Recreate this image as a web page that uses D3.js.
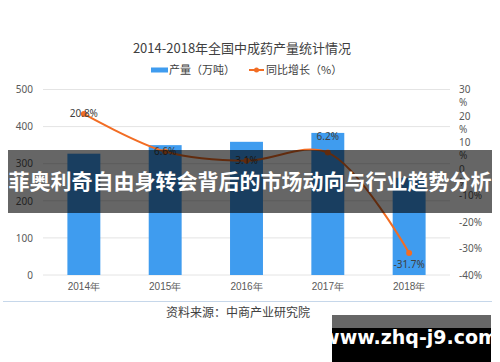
<!DOCTYPE html>
<html>
<head>
<meta charset="utf-8">
<script src="https://cdn.jsdelivr.net/npm/d3@7"></script>
<style>
  body { margin: 0; background: #fff; }
  svg { display: block; font-family: "Noto Sans CJK SC", "Noto Sans", sans-serif; }
</style>
</head>
<body>
<svg id="chart" width="500" height="362"></svg>
<script>
// data
const years = ["2014年", "2015年", "2016年", "2017年", "2018年"];
const output = [327, 350, 359, 383, 262]; // 产量（万吨）
const growth = [20.8, 6.6, 3.1, 6.2, -31.7]; // 同比增长（%）
const leftTicks = [0, 100, 200, 300, 400, 500];
const rightTicks = [30, 20, 10, 0, -10, -20, -30, -40];

const barColor = "#3f9cef";
const lineColor = "#f26d24";

const svg = d3.select("#chart");

// plot area
const x0 = 43, x1 = 450, yTop = 89.5, yBot = 275;

const x = d3.scaleBand().domain(years).range([x0, x1]).paddingInner(0.595).paddingOuter(0.3);
const yL = d3.scaleLinear().domain([0, 500]).range([yBot, yTop]);
const yR = d3.scaleLinear().domain([-40, 30]).range([yBot, yTop]);

// gridlines
svg.append("g")
  .selectAll("line")
  .data(leftTicks)
  .join("line")
  .attr("x1", x0).attr("x2", x1)
  .attr("y1", d => yL(d)).attr("y2", d => yL(d))
  .attr("stroke", "#e4e4e4").attr("stroke-width", 1);

// left axis
const axL = svg.append("g")
  .attr("transform", "translate(" + (x0 - 8) + ",0)")
  .call(d3.axisLeft(yL).tickValues(leftTicks).tickSize(0).tickPadding(2));
axL.select(".domain").remove();
axL.selectAll("text").attr("font-size", 10).attr("fill", "#595959").attr("font-family", "'Noto Sans', sans-serif");

// right axis: 30/20/10/0 wrap the % sign onto a second line
const axR = svg.append("g");
rightTicks.forEach(t => {
  const g = axR.append("text")
    .attr("x", 459)
    .attr("y", yR(t))
    .attr("dy", "0.35em")
    .attr("font-size", 10)
    .attr("fill", "#595959")
    .attr("font-family", "'Noto Sans', sans-serif");
  if (t >= 0) {
    g.append("tspan").attr("x", 459).text(t);
    g.append("tspan").attr("x", 459).attr("dy", 13.3).text("%");
  } else {
    g.text(t + "%");
  }
});

// x axis labels
const axX = svg.append("g")
  .attr("transform", "translate(0," + (yBot + 6) + ")")
  .call(d3.axisBottom(x).tickSize(0).tickPadding(2));
axX.select(".domain").remove();
axX.selectAll("text").attr("font-size", 10).attr("fill", "#595959");

// bars
svg.append("g")
  .selectAll("rect")
  .data(output)
  .join("rect")
  .attr("x", (d, i) => x(years[i]))
  .attr("width", x.bandwidth())
  .attr("y", d => yL(d))
  .attr("height", d => yBot - yL(d))
  .attr("fill", barColor);

// growth line (smoothed)
const cx = (d, i) => x(years[i]) + x.bandwidth() / 2;
const line = d3.line()
  .x(cx)
  .y(d => yR(d))
  .curve(d3.curveCatmullRom.alpha(0.5));

svg.append("path")
  .datum(growth)
  .attr("fill", "none")
  .attr("stroke", lineColor)
  .attr("stroke-width", 2)
  .attr("d", line);

svg.append("g")
  .selectAll("circle")
  .data(growth)
  .join("circle")
  .attr("cx", cx)
  .attr("cy", d => yR(d))
  .attr("r", 3)
  .attr("fill", lineColor);

// data labels
const labelDy = [0, 0, 0, -16, 11];
svg.append("g")
  .selectAll("text")
  .data(growth)
  .join("text")
  .attr("x", cx)
  .attr("y", (d, i) => yR(d) + labelDy[i])
  .attr("dy", "0.35em")
  .attr("text-anchor", "middle")
  .attr("font-size", 10)
  .attr("fill", "#404040")
  .attr("font-family", "'Noto Sans', sans-serif")
  .text(d => d.toFixed(1) + "%");

// title
svg.append("text")
  .attr("x", 242).attr("y", 48)
  .attr("dy", "0.35em")
  .attr("text-anchor", "middle")
  .attr("font-size", 13)
  .attr("fill", "#404040")
  .text("2014-2018年全国中成药产量统计情况");

// legend
const leg = svg.append("g");
leg.append("rect").attr("x", 151).attr("y", 67.5).attr("width", 17).attr("height", 5).attr("fill", barColor);
leg.append("text").attr("x", 169).attr("y", 70).attr("dy", "0.35em")
  .attr("font-size", 11).attr("fill", "#404040").text("产量（万吨）");
leg.append("line").attr("x1", 249).attr("x2", 264).attr("y1", 70).attr("y2", 70)
  .attr("stroke", lineColor).attr("stroke-width", 2);
leg.append("circle").attr("cx", 256.5).attr("cy", 70).attr("r", 2.5).attr("fill", lineColor);
leg.append("text").attr("x", 266).attr("y", 70).attr("dy", "0.35em")
  .attr("font-size", 11).attr("fill", "#404040").text("同比增长（%）");

// chart bottom border
svg.append("line")
  .attr("x1", 3).attr("x2", 492).attr("y1", 301.5).attr("y2", 301.5)
  .attr("stroke", "#c6d7ea").attr("stroke-width", 1.2);

// source
svg.append("text")
  .attr("x", 238).attr("y", 313)
  .attr("dy", "0.35em")
  .attr("text-anchor", "middle")
  .attr("font-size", 12)
  .attr("fill", "#404040")
  .text("资料来源：中商产业研究院");

// overlay banner
svg.append("rect")
  .attr("x", 8).attr("y", 150).attr("width", 484).attr("height", 63)
  .attr("fill", "rgba(0,0,0,0.6)");
svg.append("text")
  .attr("x", 250).attr("y", 182)
  .attr("dy", "0.35em")
  .attr("text-anchor", "middle")
  .attr("font-size", 21)
  .attr("font-weight", "bold")
  .attr("fill", "#fff")
  .text("菲奥利奇自由身转会背后的市场动向与行业趋势分析");

// watermark
svg.append("rect").attr("x", 332).attr("y", 315).attr("width", 159).attr("height", 13).attr("fill", "#666");
svg.append("rect").attr("x", 332).attr("y", 328).attr("width", 159).attr("height", 34).attr("fill", "#000");
svg.append("text")
  .attr("x", 410).attr("y", 337)
  .attr("dy", "0.35em")
  .attr("text-anchor", "middle")
  .attr("font-size", 19)
  .attr("font-weight", "bold")
  .attr("fill", "#fff")
  .attr("font-family", "'DejaVu Sans', sans-serif")
  .text("www.zhq-j9.com");
</script>
</body>
</html>
